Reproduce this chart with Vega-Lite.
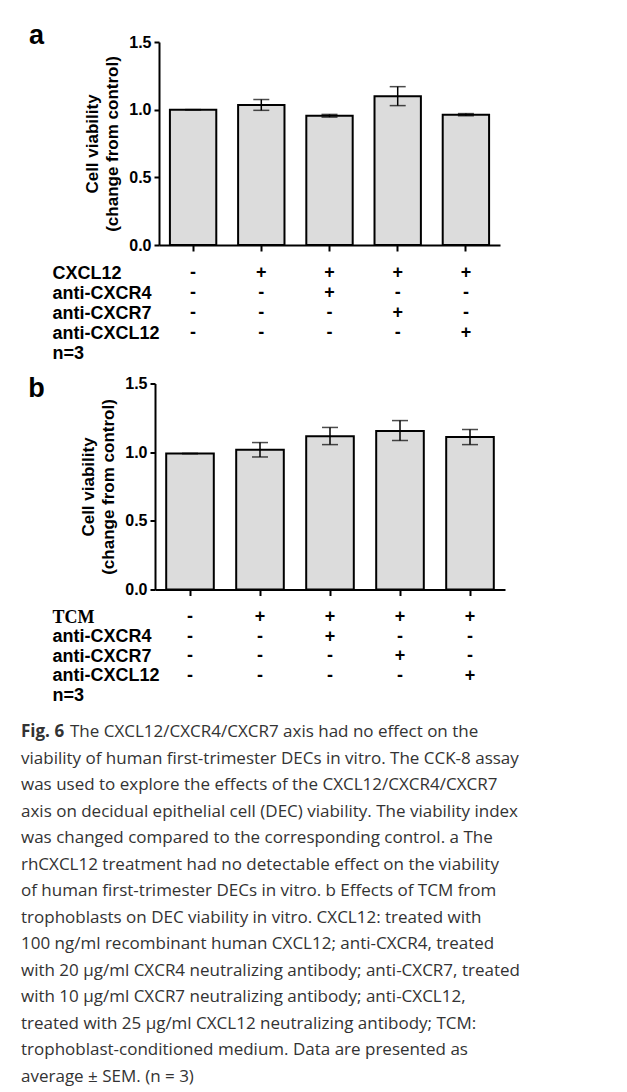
{
  "$schema": "https://vega.github.io/schema/vega-lite/v6.json",
  "background": "white",
  "padding": {"left": 21, "top": 22, "right": 0, "bottom": 0},
  "config": {
    "font": "Liberation Sans",
    "view": {"stroke": null},
    "axis": {
      "grid": false,
      "domainColor": "black",
      "domainWidth": 2,
      "tickColor": "black",
      "tickWidth": 2,
      "labelColor": "black",
      "titleColor": "black",
      "labelFont": "Liberation Sans",
      "titleFont": "Liberation Sans"
    }
  },
  "datasets": {
    "barsA": [
      {"g": 1, "mean": 1.0, "lo": 1.0, "hi": 1.0},
      {"g": 2, "mean": 1.035, "lo": 0.995, "hi": 1.075},
      {"g": 3, "mean": 0.955, "lo": 0.945, "hi": 0.965},
      {"g": 4, "mean": 1.1, "lo": 1.03, "hi": 1.17},
      {"g": 5, "mean": 0.963, "lo": 0.955, "hi": 0.971}
    ],
    "barsB": [
      {"g": 1, "mean": 0.99, "lo": 0.99, "hi": 0.99},
      {"g": 2, "mean": 1.017, "lo": 0.965, "hi": 1.07},
      {"g": 3, "mean": 1.115, "lo": 1.055, "hi": 1.18},
      {"g": 4, "mean": 1.155, "lo": 1.085, "hi": 1.23},
      {"g": 5, "mean": 1.11, "lo": 1.055, "hi": 1.165}
    ],
    "tblA": [
      {"row": "CXCL12", "g": 1, "sym": "-"}, {"row": "CXCL12", "g": 2, "sym": "+"}, {"row": "CXCL12", "g": 3, "sym": "+"}, {"row": "CXCL12", "g": 4, "sym": "+"}, {"row": "CXCL12", "g": 5, "sym": "+"},
      {"row": "anti-CXCR4", "g": 1, "sym": "-"}, {"row": "anti-CXCR4", "g": 2, "sym": "-"}, {"row": "anti-CXCR4", "g": 3, "sym": "+"}, {"row": "anti-CXCR4", "g": 4, "sym": "-"}, {"row": "anti-CXCR4", "g": 5, "sym": "-"},
      {"row": "anti-CXCR7", "g": 1, "sym": "-"}, {"row": "anti-CXCR7", "g": 2, "sym": "-"}, {"row": "anti-CXCR7", "g": 3, "sym": "-"}, {"row": "anti-CXCR7", "g": 4, "sym": "+"}, {"row": "anti-CXCR7", "g": 5, "sym": "-"},
      {"row": "anti-CXCL12", "g": 1, "sym": "-"}, {"row": "anti-CXCL12", "g": 2, "sym": "-"}, {"row": "anti-CXCL12", "g": 3, "sym": "-"}, {"row": "anti-CXCL12", "g": 4, "sym": "-"}, {"row": "anti-CXCL12", "g": 5, "sym": "+"}
    ],
    "tblB": [
      {"row": "TCM", "g": 1, "sym": "-"}, {"row": "TCM", "g": 2, "sym": "+"}, {"row": "TCM", "g": 3, "sym": "+"}, {"row": "TCM", "g": 4, "sym": "+"}, {"row": "TCM", "g": 5, "sym": "+"},
      {"row": "anti-CXCR4", "g": 1, "sym": "-"}, {"row": "anti-CXCR4", "g": 2, "sym": "-"}, {"row": "anti-CXCR4", "g": 3, "sym": "+"}, {"row": "anti-CXCR4", "g": 4, "sym": "-"}, {"row": "anti-CXCR4", "g": 5, "sym": "-"},
      {"row": "anti-CXCR7", "g": 1, "sym": "-"}, {"row": "anti-CXCR7", "g": 2, "sym": "-"}, {"row": "anti-CXCR7", "g": 3, "sym": "-"}, {"row": "anti-CXCR7", "g": 4, "sym": "+"}, {"row": "anti-CXCR7", "g": 5, "sym": "-"},
      {"row": "anti-CXCL12", "g": 1, "sym": "-"}, {"row": "anti-CXCL12", "g": 2, "sym": "-"}, {"row": "anti-CXCL12", "g": 3, "sym": "-"}, {"row": "anti-CXCL12", "g": 4, "sym": "-"}, {"row": "anti-CXCL12", "g": 5, "sym": "+"}
    ],
    "caption": [
      {"line": 1, "txt": "The CXCL12/CXCR4/CXCR7 axis had no effect on the", "bold": "Fig. 6"},
      {"line": 2, "txt": "viability of human first-trimester DECs in vitro. The CCK-8 assay", "bold": ""},
      {"line": 3, "txt": "was used to explore the effects of the CXCL12/CXCR4/CXCR7", "bold": ""},
      {"line": 4, "txt": "axis on decidual epithelial cell (DEC) viability. The viability index", "bold": ""},
      {"line": 5, "txt": "was changed compared to the corresponding control. a The", "bold": ""},
      {"line": 6, "txt": "rhCXCL12 treatment had no detectable effect on the viability", "bold": ""},
      {"line": 7, "txt": "of human first-trimester DECs in vitro. b Effects of TCM from", "bold": ""},
      {"line": 8, "txt": "trophoblasts on DEC viability in vitro. CXCL12: treated with", "bold": ""},
      {"line": 9, "txt": "100 ng/ml recombinant human CXCL12; anti-CXCR4, treated", "bold": ""},
      {"line": 10, "txt": "with 20 µg/ml CXCR4 neutralizing antibody; anti-CXCR7, treated", "bold": ""},
      {"line": 11, "txt": "with 10 µg/ml CXCR7 neutralizing antibody; anti-CXCL12,", "bold": ""},
      {"line": 12, "txt": "treated with 25 µg/ml CXCL12 neutralizing antibody; TCM:", "bold": ""},
      {"line": 13, "txt": "trophoblast-conditioned medium. Data are presented as", "bold": ""},
      {"line": 14, "txt": "average ± SEM. (n = 3)", "bold": ""}
    ]
  },
  "vconcat": [
    {
      "spacing": 11.5,
      "vconcat": [
        {
          "spacing": 0,
          "hconcat": [
            {
              "width": 31, "height": 4,
              "data": {"values": [{"p": "a"}]},
              "mark": {"type": "text", "fontSize": 27, "fontWeight": "bold", "align": "center", "baseline": "alphabetic", "color": "black", "font": "Liberation Sans"},
              "encoding": {"text": {"field": "p"}}
            },
            {
              "spacing": 10,
              "vconcat": [
                {
                  "width": 341, "height": 203,
                  "data": {"name": "barsA"},
                  "encoding": {
                    "x": {"field": "g", "type": "ordinal", "scale": {"type": "band", "paddingInner": 0.32, "paddingOuter": 0.16},
                          "axis": {"labels": false, "title": null, "ticks": true, "tickSize": 6, "domain": true}}
                  },
                  "layer": [
                    {
                      "mark": {"type": "bar", "fill": "#dcdcdc", "stroke": "black", "strokeWidth": 2},
                      "encoding": {
                        "y": {"field": "mean", "type": "quantitative", "scale": {"domain": [0, 1.5], "nice": false},
                              "title": ["Cell viability", "(change from control)"],
                              "axis": {"values": [0, 0.5, 1, 1.5], "format": ".1f", "labelFontSize": 16, "labelFontWeight": "bold", "tickSize": 5, "labelPadding": 3,
                                       "titleFontSize": 17, "titleFontWeight": "bold", "titleLineHeight": 20, "titlePadding": 7}}
                      }
                    },
                    {
                      "mark": {"type": "rule", "color": "black", "strokeWidth": 1.5},
                      "encoding": {"y": {"field": "lo", "type": "quantitative", "title": ["Cell viability", "(change from control)"]}, "y2": {"field": "hi"}}
                    },
                    {
                      "mark": {"type": "tick", "color": "black", "thickness": 1.5, "size": 16},
                      "encoding": {"y": {"field": "lo", "type": "quantitative", "title": ["Cell viability", "(change from control)"]}}
                    },
                    {
                      "mark": {"type": "tick", "color": "black", "thickness": 1.5, "size": 16},
                      "encoding": {"y": {"field": "hi", "type": "quantitative", "title": ["Cell viability", "(change from control)"]}}
                    }
                  ]
                },
                {
                  "width": 341, "height": 100,
                  "data": {"name": "tblA"},
                  "mark": {"type": "text", "fontSize": 18, "fontWeight": "bold", "font": "Liberation Sans", "baseline": "middle", "color": "black"},
                  "encoding": {
                    "x": {"field": "g", "type": "ordinal", "scale": {"type": "band", "paddingInner": 0.32, "paddingOuter": 0.16}, "axis": null},
                    "y": {"field": "row", "type": "nominal", "scale": {"domain": ["CXCL12", "anti-CXCR4", "anti-CXCR7", "anti-CXCL12", "n=3"]},
                          "axis": {"title": null, "domain": false, "ticks": false, "labelAlign": "left", "labelPadding": 107, "labelFontSize": 18, "labelFontWeight": "bold", "labelBaseline": "middle", "labelLimit": 0}},
                    "text": {"field": "sym"}
                  }
                }
              ]
            }
          ]
        },
        {
          "spacing": 0,
          "hconcat": [
            {
              "width": 31, "height": 26,
              "data": {"values": [{"p": "b"}]},
              "mark": {"type": "text", "fontSize": 27, "fontWeight": "bold", "align": "center", "baseline": "alphabetic", "color": "black", "font": "Liberation Sans"},
              "encoding": {"text": {"field": "p"}}
            },
            {
              "spacing": 10,
              "vconcat": [
                {
                  "width": 350, "height": 206,
                  "data": {"name": "barsB"},
                  "encoding": {
                    "x": {"field": "g", "type": "ordinal", "scale": {"type": "band", "paddingInner": 0.32, "paddingOuter": 0.16},
                          "axis": {"labels": false, "title": null, "ticks": true, "tickSize": 6, "domain": true}}
                  },
                  "layer": [
                    {
                      "mark": {"type": "bar", "fill": "#dcdcdc", "stroke": "black", "strokeWidth": 2},
                      "encoding": {
                        "y": {"field": "mean", "type": "quantitative", "scale": {"domain": [0, 1.5], "nice": false},
                              "title": ["Cell viability", "(change from control)"],
                              "axis": {"values": [0, 0.5, 1, 1.5], "format": ".1f", "labelFontSize": 16, "labelFontWeight": "bold", "tickSize": 5, "labelPadding": 3,
                                       "titleFontSize": 17, "titleFontWeight": "bold", "titleLineHeight": 20, "titlePadding": 7}}
                      }
                    },
                    {
                      "mark": {"type": "rule", "color": "black", "strokeWidth": 1.5},
                      "encoding": {"y": {"field": "lo", "type": "quantitative", "title": ["Cell viability", "(change from control)"]}, "y2": {"field": "hi"}}
                    },
                    {
                      "mark": {"type": "tick", "color": "black", "thickness": 1.5, "size": 16},
                      "encoding": {"y": {"field": "lo", "type": "quantitative", "title": ["Cell viability", "(change from control)"]}}
                    },
                    {
                      "mark": {"type": "tick", "color": "black", "thickness": 1.5, "size": 16},
                      "encoding": {"y": {"field": "hi", "type": "quantitative", "title": ["Cell viability", "(change from control)"]}}
                    }
                  ]
                },
                {
                  "width": 350, "height": 97.5,
                  "data": {"name": "tblB"},
                  "mark": {"type": "text", "fontSize": 18, "fontWeight": "bold", "font": "Liberation Sans", "baseline": "middle", "color": "black"},
                  "encoding": {
                    "x": {"field": "g", "type": "ordinal", "scale": {"type": "band", "paddingInner": 0.32, "paddingOuter": 0.16}, "axis": null},
                    "y": {"field": "row", "type": "nominal", "scale": {"domain": ["TCM", "anti-CXCR4", "anti-CXCR7", "anti-CXCL12", "n=3"]},
                          "axis": {"title": null, "domain": false, "ticks": false, "labelAlign": "left", "labelPadding": 103, "labelFontSize": 18, "labelFontWeight": "bold", "labelBaseline": "middle", "labelLimit": 0,
                                   "labelFont": {"condition": {"test": "datum.value === 'TCM'", "value": "Liberation Serif"}, "value": "Liberation Sans"}}},
                    "text": {"field": "sym"}
                  }
                }
              ]
            }
          ]
        }
      ]
    },
    {
      "width": 590, "height": 371,
      "data": {"name": "caption"},
      "encoding": {
        "x": {"datum": 0, "type": "quantitative", "scale": {"domain": [0, 1]}, "axis": null},
        "y": {"field": "line", "type": "ordinal", "axis": null}
      },
      "layer": [
        {
          "transform": [{"filter": "datum.line !== 1"}],
          "mark": {"type": "text", "align": "left", "baseline": "alphabetic", "font": "Open Sans", "fontSize": 17, "color": "#333333"},
          "encoding": {"text": {"field": "txt"}}
        },
        {
          "transform": [{"filter": "datum.line === 1"}],
          "mark": {"type": "text", "align": "left", "baseline": "alphabetic", "font": "Open Sans", "fontSize": 17, "color": "#333333", "dx": 49},
          "encoding": {"text": {"field": "txt"}}
        },
        {
          "transform": [{"filter": "datum.line === 1"}],
          "mark": {"type": "text", "align": "left", "baseline": "alphabetic", "font": "Open Sans", "fontSize": 17, "fontWeight": "bold", "color": "#333333"},
          "encoding": {"text": {"field": "bold"}}
        }
      ]
    }
  ],
  "spacing": 18
}
